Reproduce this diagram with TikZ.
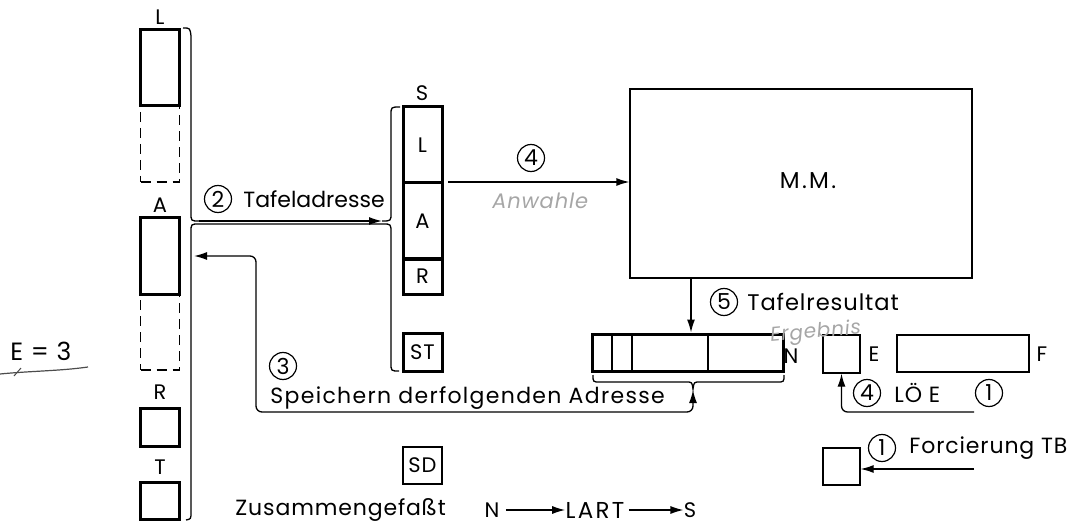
\documentclass[tikz,border=0pt]{standalone}
\usepackage{fontspec}
\setmainfont{Poppins}[LetterSpace=4]
\usetikzlibrary{arrows.meta}
\begin{document}
\begin{tikzpicture}[x=0.5pt,y=-0.5pt,
  reg/.style={draw, line width=1.5pt, minimum width=19.5pt, inner sep=0pt},
  thinbox/.style={draw, line width=0.65pt, inner sep=0pt},
  dashbox/.style={draw, dashed, dash pattern=on 5pt off 3pt, line width=0.65pt, minimum width=19.5pt, inner sep=0pt},
  br/.style={line width=0.65pt},
  arr/.style={line width=0.65pt, -{Latex[length=6.5pt,width=4pt]}},
  num/.style={draw, circle, line width=0.6pt, minimum size=13.5pt, inner sep=0pt, font=\addfontfeature{LetterSpace=0}\fontsize{11}{11}\selectfont},
  lbl/.style={inner sep=0pt, font=\fontsize{10.5}{11}\selectfont},
  txt/.style={inner sep=0pt, anchor=west, font=\fontsize{11}{12}\selectfont},
  hand/.style={inner sep=0pt, anchor=west, text=black!35, font=\itshape\fontsize{10.5}{11}\selectfont}]
\useasboundingbox (0,0) rectangle (1086,529);

% ---- left column
\node[dashbox, minimum height=38pt] (Ldash) at (160,144) {};
\node[reg, minimum height=38pt] (Lsol) at (160,68) {};
\node[lbl] (Llab) at (160,17) {L};
\node[dashbox, minimum height=38pt] (Adash) at (160,332) {};
\node[reg, minimum height=38pt] (Asol) at (160,256) {};
\node[lbl] (Alab) at (160,205) {A};
\node[reg, minimum height=19pt] (Rbox) at (160,427) {};
\node[lbl] (Rlab) at (160,392) {R};
\node[reg, minimum height=18.5pt] (Tbox) at (160,501) {};
\node[lbl] (Tlab) at (160,467) {T};

% ---- S register
\node[reg, minimum height=38pt] (SL) at (422.5,145) {};
\node[lbl] at (SL) {L};
\node[reg, minimum height=38pt] (SA) at (422.5,221) {};
\node[lbl] at (SA) {A};
\node[reg, minimum height=17.5pt] (SR) at (422.5,276.5) {};
\node[lbl] at (SR) {R};
\node[lbl] (Slab) at (422,93) {S};
\node[reg, minimum height=19pt] (ST) at (422.5,352) {};
\node[lbl] at (ST) {ST};
\node[thinbox, minimum width=19.5pt, minimum height=18.5pt] (SD) at (422.5,465.5) {};
\node[lbl] at (SD) {SD};

% ---- main memory
\node[thinbox, minimum width=171pt, minimum height=94.5pt] (MM) at (801,183.5) {};
\node[lbl, font=\addfontfeature{LetterSpace=10}\fontsize{11.5}{12}\selectfont] at (808,181) {M.M.};

% ---- N register
\node[reg, minimum width=95.5pt, minimum height=18.5pt] (N) at (687.5,352.5) {};
\draw[line width=0.65pt] (612,334) -- (612,371) (632,334) -- (632,371) (708,334) -- (708,371);
\node[lbl] (Nlab) at (791,356) {N};

% ---- E, F, TB
\node[thinbox, minimum width=18.5pt, minimum height=19pt] (E) at (841.5,354) {};
\node[lbl] (Elab) at (874,354) {E};
\node[thinbox, minimum width=66pt, minimum height=18.5pt] (F) at (963,353.5) {};
\node[lbl] (Flab) at (1042,354) {F};
\node[thinbox, minimum width=18.5pt, minimum height=18.5pt] (TB) at (841.5,466.5) {};

% ---- left brace and arrow (2)
\coordinate (c2a) at (199,221);
\coordinate (c2b) at (382,221);
\draw[br] (183,28) .. controls (190,28) .. (191,36) -- (191,213) .. controls (191,221) .. (c2a);
\draw[br] (186,520) .. controls (191,519) .. (191,512) -- (191,232) .. controls (191,224) .. (199,224) -- (383,224) .. controls (391,224) .. (391,233) -- (391,363) .. controls (391,371) .. (399,371);
\draw[br] (400,107) .. controls (391,107) .. (391,115) -- (391,213) .. controls (391,221) .. (c2b);
\draw[arr] (c2a) -- (c2b);
\node[num] (n2) at (218,199) {2};
\node[txt, font=\addfontfeature{LetterSpace=0}\fontsize{11}{12}\selectfont] (t2) at (243,199) {Tafeladresse};

% ---- arrow (4) to M.M.
\coordinate (a4s) at (448,182);
\draw[arr] (a4s) -- (a4s -| MM.west);
\node[num] (n4) at (531,158) {4};
\node[hand] (anw) at (492,201) {Anwahle};

% ---- arrow (5)
\draw[arr] (MM.south -| 691,0) -- (N.north -| 691,0);
\node[num] (n5) at (724,302) {5};
\node[txt, font=\fontsize{11.3}{12}\selectfont] (t5) at (747,302) {Tafelresultat};
\node[hand, rotate=5, font=\itshape\fontsize{10}{10}\selectfont] (erg) at (770,337) {Ergebnis};

% ---- N brace and arrow (3)
\coordinate (nb) at (693,390);
\draw[br] (593,375) .. controls (593,382) .. (600,382) -- (686,382) .. controls (692,382) .. (693,389) .. controls (694,382) .. (700,382) -- (777,382) .. controls (784,382) .. (784,375);
\coordinate (a3l) at (194,256);
\draw[line width=0.65pt, {Latex[length=6.5pt,width=4pt]}-{Latex[length=6.5pt,width=4pt]}, rounded corners=3pt] (a3l) -| (256,412) -| (nb);
\node[num] (n3) at (283,366) {3};
\node[txt, font=\addfontfeature{LetterSpace=6}\fontsize{11}{12}\selectfont] (t3) at (270,398) {Speichern derfolgenden Adresse};

% ---- LÖ E
\coordinate (loe) at (974,412);
\draw[arr, rounded corners=3pt] (loe) -| (E.south);
\node[num] (n4b) at (867,393) {4};
\node[txt] (t4b) at (894,393) {LÖ E};
\node[num] (n1a) at (989,393) {1};

% ---- Forcierung TB
\coordinate (ftb) at (974,469);
\draw[arr] (ftb) -- (ftb -| TB.east);
\node[num] (n1b) at (882,448) {1};
\node[txt] (t1b) at (909,448) {Forcierung TB};

% ---- E = 3
\node[txt, font=\fontsize{12.5}{13}\selectfont] (e3) at (10,351) {E = 3};
\draw[line width=0.6pt, black!70] (0,374) .. controls (30,371) and (60,371) .. (88,367);
\draw[line width=0.5pt, black!70] (14,376) -- (21,368);

% ---- summary
\node[txt] (zus) at (235,510) {Zusammengefaßt};
\node[lbl] (zN) at (492,510) {N};
\node[lbl, font=\addfontfeature{LetterSpace=10}\fontsize{11.5}{12}\selectfont] (zL) at (595,510) {LART};
\node[lbl] (zS) at (690,510) {S};
\draw[arr] (zN.east) ++(3pt,0) -- (zL.west);
\draw[arr] (zL.east) ++(2pt,0) -- (zS.west);
\end{tikzpicture}
\end{document}
